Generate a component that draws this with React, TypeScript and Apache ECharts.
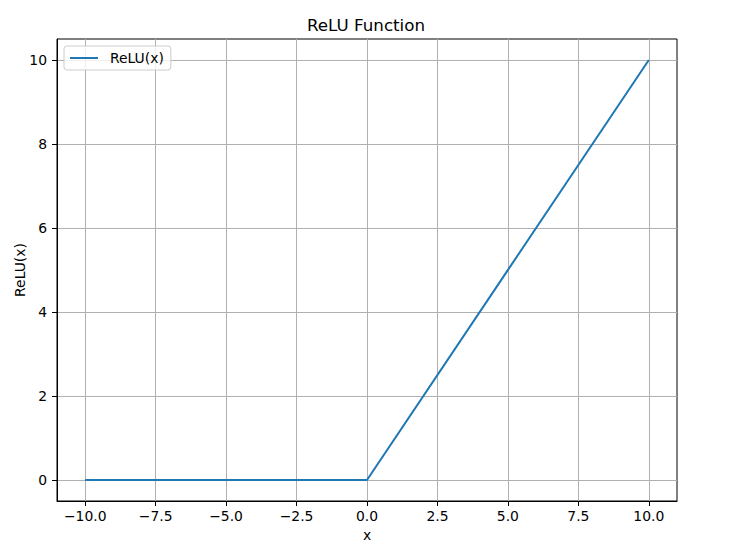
import React, { useEffect, useRef } from "react";
import * as echarts from "echarts";

const xValues = [-10, 0, 10];
const yValues = [0, 0, 10];
const xTicks = [-10, -7.5, -5, -2.5, 0, 2.5, 5, 7.5, 10];
const yTicks = [0, 2, 4, 6, 8, 10];
const seriesName = "ReLU(x)";
const titleText = "ReLU Function";
const xLabel = "x";
const yLabel = "ReLU(x)";

const FONT = "DejaVu Sans";
const fmtMinus = (s: string) => s.replace("-", "\u2212");

export default function App() {
  const ref = useRef<HTMLDivElement>(null);
  useEffect(() => {
    document.body.style.margin = "0";
    const chart = echarts.init(ref.current!, null, { renderer: "svg" });
    chart.setOption({
      animation: false,
      backgroundColor: "#ffffff",
      textStyle: { fontFamily: FONT },
      title: {
        text: titleText,
        left: "center",
        top: 11,
        textStyle: { fontFamily: FONT, fontSize: 16.7, fontWeight: "normal", color: "#000" },
      },
      legend: {
        left: 64,
        top: 46,
        padding: [5, 7, 5, 5],
        itemWidth: 28,
        itemHeight: 14,
        backgroundColor: "rgba(255,255,255,0.8)",
        borderColor: "#cccccc",
        borderWidth: 1,
        borderRadius: 3,
        itemStyle: { opacity: 0 },
        lineStyle: { color: "#1f77b4", width: 2 },
        textStyle: { fontFamily: FONT, fontSize: 13.9, color: "#000", padding: [0, 0, 0, 7] },
        data: [seriesName],
      },
      grid: {
        left: 57,
        right: 55,
        top: 39,
        bottom: 53,
        show: true,
        borderColor: "#000",
        borderWidth: 1,
        containLabel: false,
        outerBoundsMode: "none",
      },
      xAxis: {
        type: "value",
        min: -11,
        max: 11,
        name: xLabel,
        nameLocation: "middle",
        nameGap: 26,
        nameTextStyle: { fontFamily: FONT, fontSize: 13.9, color: "#000" },
        axisLine: { show: true, onZero: false, lineStyle: { color: "#000", width: 1 } },
        axisTick: { show: true, length: 5, lineStyle: { color: "#000", width: 1 }, customValues: xTicks },
        axisLabel: {
          customValues: xTicks,
          margin: 8,
          fontFamily: FONT,
          fontSize: 13.9,
          color: "#000",
          formatter: (v: number) => fmtMinus(v.toFixed(1)),
        },
        splitLine: { show: true, lineStyle: { color: "#b0b0b0", width: 1 } },
      },
      yAxis: {
        type: "value",
        min: -0.5,
        max: 10.5,
        name: yLabel,
        nameLocation: "middle",
        nameGap: 30,
        nameRotate: 90,
        nameMoveOverlap: false,
        nameTextStyle: { fontFamily: FONT, fontSize: 13.9, color: "#000" },
        axisLine: { show: true, onZero: false, lineStyle: { color: "#000", width: 1 } },
        axisTick: { show: true, length: 5, lineStyle: { color: "#000", width: 1 }, customValues: yTicks },
        axisLabel: {
          customValues: yTicks,
          margin: 10,
          fontFamily: FONT,
          fontSize: 13.9,
          color: "#000",
          formatter: (v: number) => fmtMinus(String(v)),
        },
        splitLine: { show: true, lineStyle: { color: "#b0b0b0", width: 1 } },
      },
      series: [
        {
          name: seriesName,
          type: "line",
          data: xValues.map((x, i) => [x, yValues[i]]),
          symbol: "none",
          lineStyle: { color: "#1f77b4", width: 2 },
          itemStyle: { color: "#1f77b4" },
          z: 3,
        },
      ],
    });
    return () => chart.dispose();
  }, []);
  return <div ref={ref} style={{ width: 732, height: 554 }} />;
}
